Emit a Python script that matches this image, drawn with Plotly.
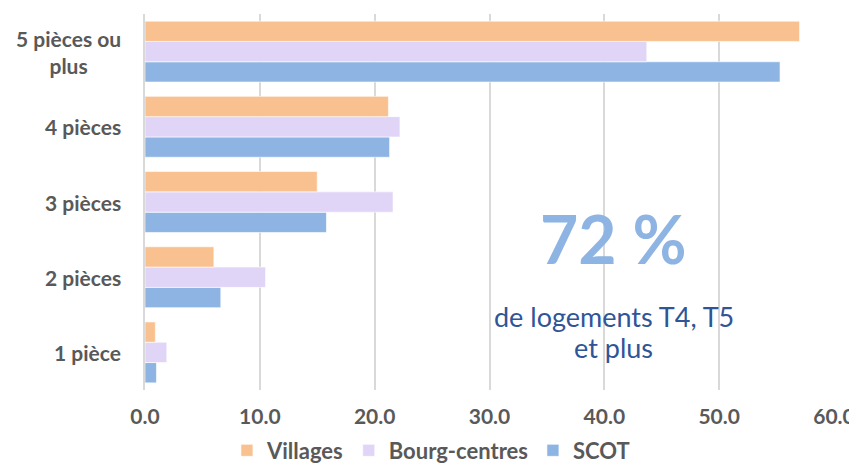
import plotly.graph_objects as go

# categories from bottom to top
categories = ['1 pièce', '2 pièces', '3 pièces', '4 pièces', '5 pièces ou plus']
cat_labels = ['1 pièce', '2 pièces', '3 pièces', '4 pièces', '5 pièces ou<br>plus']

villages = [0.9, 6.0, 15.0, 21.2, 57.0]
bourg_centres = [1.9, 10.5, 21.6, 22.2, 43.7]
scot = [1.0, 6.6, 15.8, 21.3, 55.3]

x_ticks = [0, 10, 20, 30, 40, 50, 60]

font_family = 'Lato, Open Sans, sans-serif'
label_grey = '#595959'

fig = go.Figure()

# plotly stacks horizontal groups bottom-up, so add SCOT first
for name, vals, col in [
    ('SCOT', scot, '#8EB4E3'),
    ('Bourg-centres', bourg_centres, '#E0D4F7'),
    ('Villages', villages, '#FAC190'),
]:
    fig.add_trace(go.Bar(
        y=categories,
        x=vals,
        name=name,
        orientation='h',
        marker=dict(color=col, line=dict(color='rgba(255,255,255,0.6)', width=1)),
    ))

# category labels as annotations so the wrapped one stays centred
for cat, lab in zip(categories, cat_labels):
    fig.add_annotation(
        x=0, xref='paper', y=cat, yref='y',
        text='<b>' + lab + '</b>', showarrow=False,
        xanchor='right', xshift=-22, align='center',
        font=dict(family=font_family, size=21, color=label_grey),
    )

fig.add_annotation(
    x=40.8, y=1.52, xref='x', yref='y',
    text='<b>72 %</b>', showarrow=False,
    font=dict(family=font_family, size=66, color='#8EB4E3'),
)
fig.add_annotation(
    x=40.8, y=0.48, xref='x', yref='y',
    text='de logements T4, T5', showarrow=False,
    font=dict(family=font_family, size=27, color='#2F5597'),
)
fig.add_annotation(
    x=40.8, y=0.06, xref='x', yref='y',
    text='et plus', showarrow=False,
    font=dict(family=font_family, size=27, color='#2F5597'),
)

# page body has an 8px margin, so the figure is 8px smaller than the window
fig.update_layout(
    width=849, height=457,
    margin=dict(l=137, r=23, t=6, b=75, autoexpand=False),
    barmode='group',
    bargap=0.19,
    bargroupgap=0,
    plot_bgcolor='white',
    paper_bgcolor='white',
    font=dict(family=font_family, color=label_grey),
    legend=dict(
        orientation='h', x=0.415, xanchor='center', y=-0.161, yanchor='middle',
        traceorder='reversed',
        font=dict(family=font_family, size=22, color=label_grey, weight='bold'),
        itemwidth=30,
    ),
    xaxis=dict(
        range=[0, 60],
        tickvals=x_ticks,
        tickformat='.1f',
        showgrid=True, gridcolor='#D9D9D9', gridwidth=1.5,
        zeroline=False,
        automargin=False,
        ticklabelstandoff=12,
        tickfont=dict(family=font_family, size=21, color=label_grey, weight='bold'),
    ),
    yaxis=dict(
        categoryorder='array', categoryarray=categories,
        showticklabels=False,
        automargin=False,
        showline=True, linecolor='#D9D9D9', linewidth=1.5,
        showgrid=False,
    ),
)

fig.write_html('out.html')
